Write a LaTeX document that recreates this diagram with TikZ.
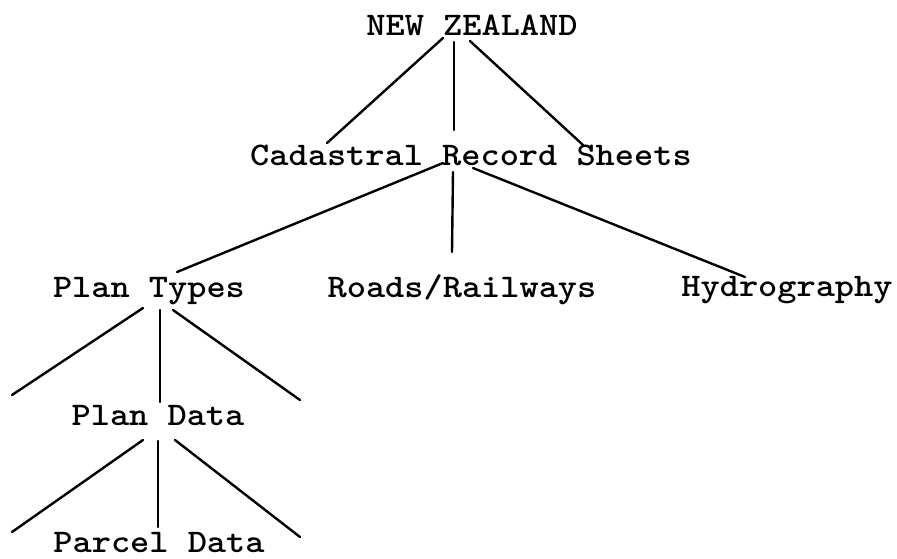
\documentclass[tikz,border=0pt]{standalone}
\usepackage{fontspec}
\newfontfamily\typefont{lmmonolt10-bold.otf}[FakeStretch=1.108]
\begin{document}
\begin{tikzpicture}[x=1pt,y=-1pt,
  lbl/.style={anchor=base,inner sep=0pt,font=\fontsize{33}{38}\selectfont\typefont},
  conn/.style={line width=2.4pt,line cap=round}]
\useasboundingbox (0,0) rectangle (897,558);
\node[lbl] (nz) at (472,35) {NEW ZEALAND};
\node[lbl] (crs) at (471,165) {Cadastral Record Sheets};
\node[lbl] (pt) at (149,297) {Plan Types};
\node[lbl] (rr) at (462,297) {Roads/Railways};
\node[lbl] (hy) at (787,296) {Hydrography};
\node[lbl] (pd) at (158,425) {Plan Data};
\node[lbl] (pcd) at (159,552) {Parcel Data};
\coordinate (f1) at (12,395);
\coordinate (f2) at (300,400);
\coordinate (f3) at (12,532);
\coordinate (f4) at (300,537);
% NEW ZEALAND
\draw[conn] ([shift={(-29,3)}]nz.base) -- ([shift={(-144,-22)}]crs.base);
\draw[conn] ([shift={(-18,7)}]nz.base) -- ([shift={(-17,-35)}]crs.base);
\draw[conn] ([shift={(-2,6)}]nz.base) -- ([shift={(112,-20)}]crs.base);
% Cadastral Record Sheets
\draw[conn] ([shift={(-28,-2)}]crs.base) -- ([shift={(28,-25)}]pt.base);
\draw[conn] ([shift={(-18,7)}]crs.base) -- ([shift={(-10,-45)}]rr.base);
\draw[conn] ([shift={(2,3)}]crs.base) -- ([shift={(-42,-19)}]hy.base);
% Plan Types
\draw[conn] ([shift={(-6,11)}]pt.base) -- (f1);
\draw[conn] ([shift={(11,13)}]pt.base) -- ([shift={(2,-23)}]pd.base);
\draw[conn] ([shift={(24,13)}]pt.base) -- (f2);
% Plan Data
\draw[conn] ([shift={(-15,15)}]pd.base) -- (f3);
\draw[conn] ([shift={(0,16)}]pd.base) -- ([shift={(-1,-25)}]pcd.base);
\draw[conn] ([shift={(17,15)}]pd.base) -- (f4);
\end{tikzpicture}
\end{document}
